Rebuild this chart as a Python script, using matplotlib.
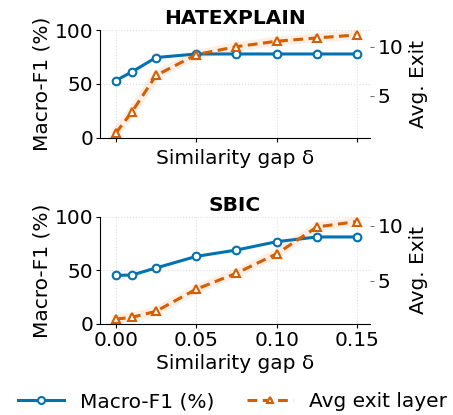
import matplotlib
matplotlib.use("Agg")
import matplotlib.pyplot as plt
from matplotlib.lines import Line2D

plt.rcParams['font.family'] = ['DejaVu Sans']
FS = 14.5
plt.rcParams['font.size'] = FS

gaps = [0.0, 0.01, 0.025, 0.05, 0.075, 0.10, 0.125, 0.15]
hx_f1 = [53.2, 61.2, 74.5, 77.8, 77.8, 77.8, 77.8, 77.8]
hx_exit = [1.14, 3.31, 7.07, 9.21, 10.03, 10.59, 10.93, 11.24]
sb_f1 = [45.3, 45.6, 52.2, 63.0, 68.9, 76.7, 81.1, 81.1]
sb_exit = [1.51, 1.67, 2.22, 4.23, 5.68, 7.44, 9.88, 10.37]
titles = ["HATEXPLAIN", "SBIC"]
xticks = [0.00, 0.05, 0.10, 0.15]

BLUE = "#0072B2"
ORANGE = "#D55E00"
DASH = (0, (3.2, 1.8))

fig = plt.figure(figsize=(4.53, 4.15), dpi=100)
positions = [[0.2208, 0.6675, 0.596, 0.2602], [0.2208, 0.2193, 0.596, 0.2586]]
data = [(hx_f1, hx_exit), (sb_f1, sb_exit)]

for i, (pos, (f1, ex), title) in enumerate(zip(positions, data, titles)):
    ax = fig.add_axes(pos)
    ax.plot(gaps, f1, color=BLUE, lw=2.2, marker='o', ms=5.5, mfc='white',
            mec=BLUE, mew=1.5, zorder=3)
    ax.set_ylim(0, 100)
    ax.set_yticks([0, 50, 100])
    ax.set_xlim(-0.0098, 0.158)
    ax.set_xticks(xticks)
    ax.grid(True, ls=':', color='#dedede', lw=0.8)
    ax.spines['top'].set_visible(False)
    ax.spines['right'].set_visible(False)
    ax.set_ylabel("Macro-F1 (%)", labelpad=2)
    ax.set_xlabel("Similarity gap δ", labelpad=3)
    ax.set_title(title, fontweight='bold', fontsize=FS, pad=4)
    ax.tick_params(axis='both', length=3, pad=2)
    if i == 0:
        ax.set_xticklabels([])
    else:
        ax.set_xticklabels(["0.00", "0.05", "0.10", "0.15"])

    ax2 = ax.twinx()
    ax2.plot(gaps, ex, color=ORANGE, lw=6.5, alpha=0.1, solid_capstyle='round', zorder=2)
    ax2.plot(gaps, ex, color=ORANGE, lw=2.2, ls=DASH, marker='^', ms=5.5,
             mfc='white', mec=ORANGE, mew=1.5, zorder=3)
    ax2.set_yticks([5, 10])
    for s in ['top', 'right', 'left', 'bottom']:
        ax2.spines[s].set_visible(False)
    ax2.set_ylabel("Avg. Exit", labelpad=4)
    ax2.tick_params(axis='y', length=3, width=0.6, color='#555555', pad=2.5)

handles = [
    Line2D([], [], color=BLUE, lw=2.2, marker='o', ms=5, mfc='white', mec=BLUE, mew=1.5),
    Line2D([], [], color=ORANGE, lw=2.2, ls=DASH, marker='^', ms=5, mfc='white',
           mec=ORANGE, mew=1.5),
]
fig.legend(handles, ["Macro-F1 (%)", "Avg exit layer"], loc='lower center',
           bbox_to_anchor=(0.513, -0.035), ncol=2, frameon=False, handlelength=2.3,
           columnspacing=1.6, handletextpad=0.8, fontsize=FS)

fig.savefig("out.png", dpi=100)
